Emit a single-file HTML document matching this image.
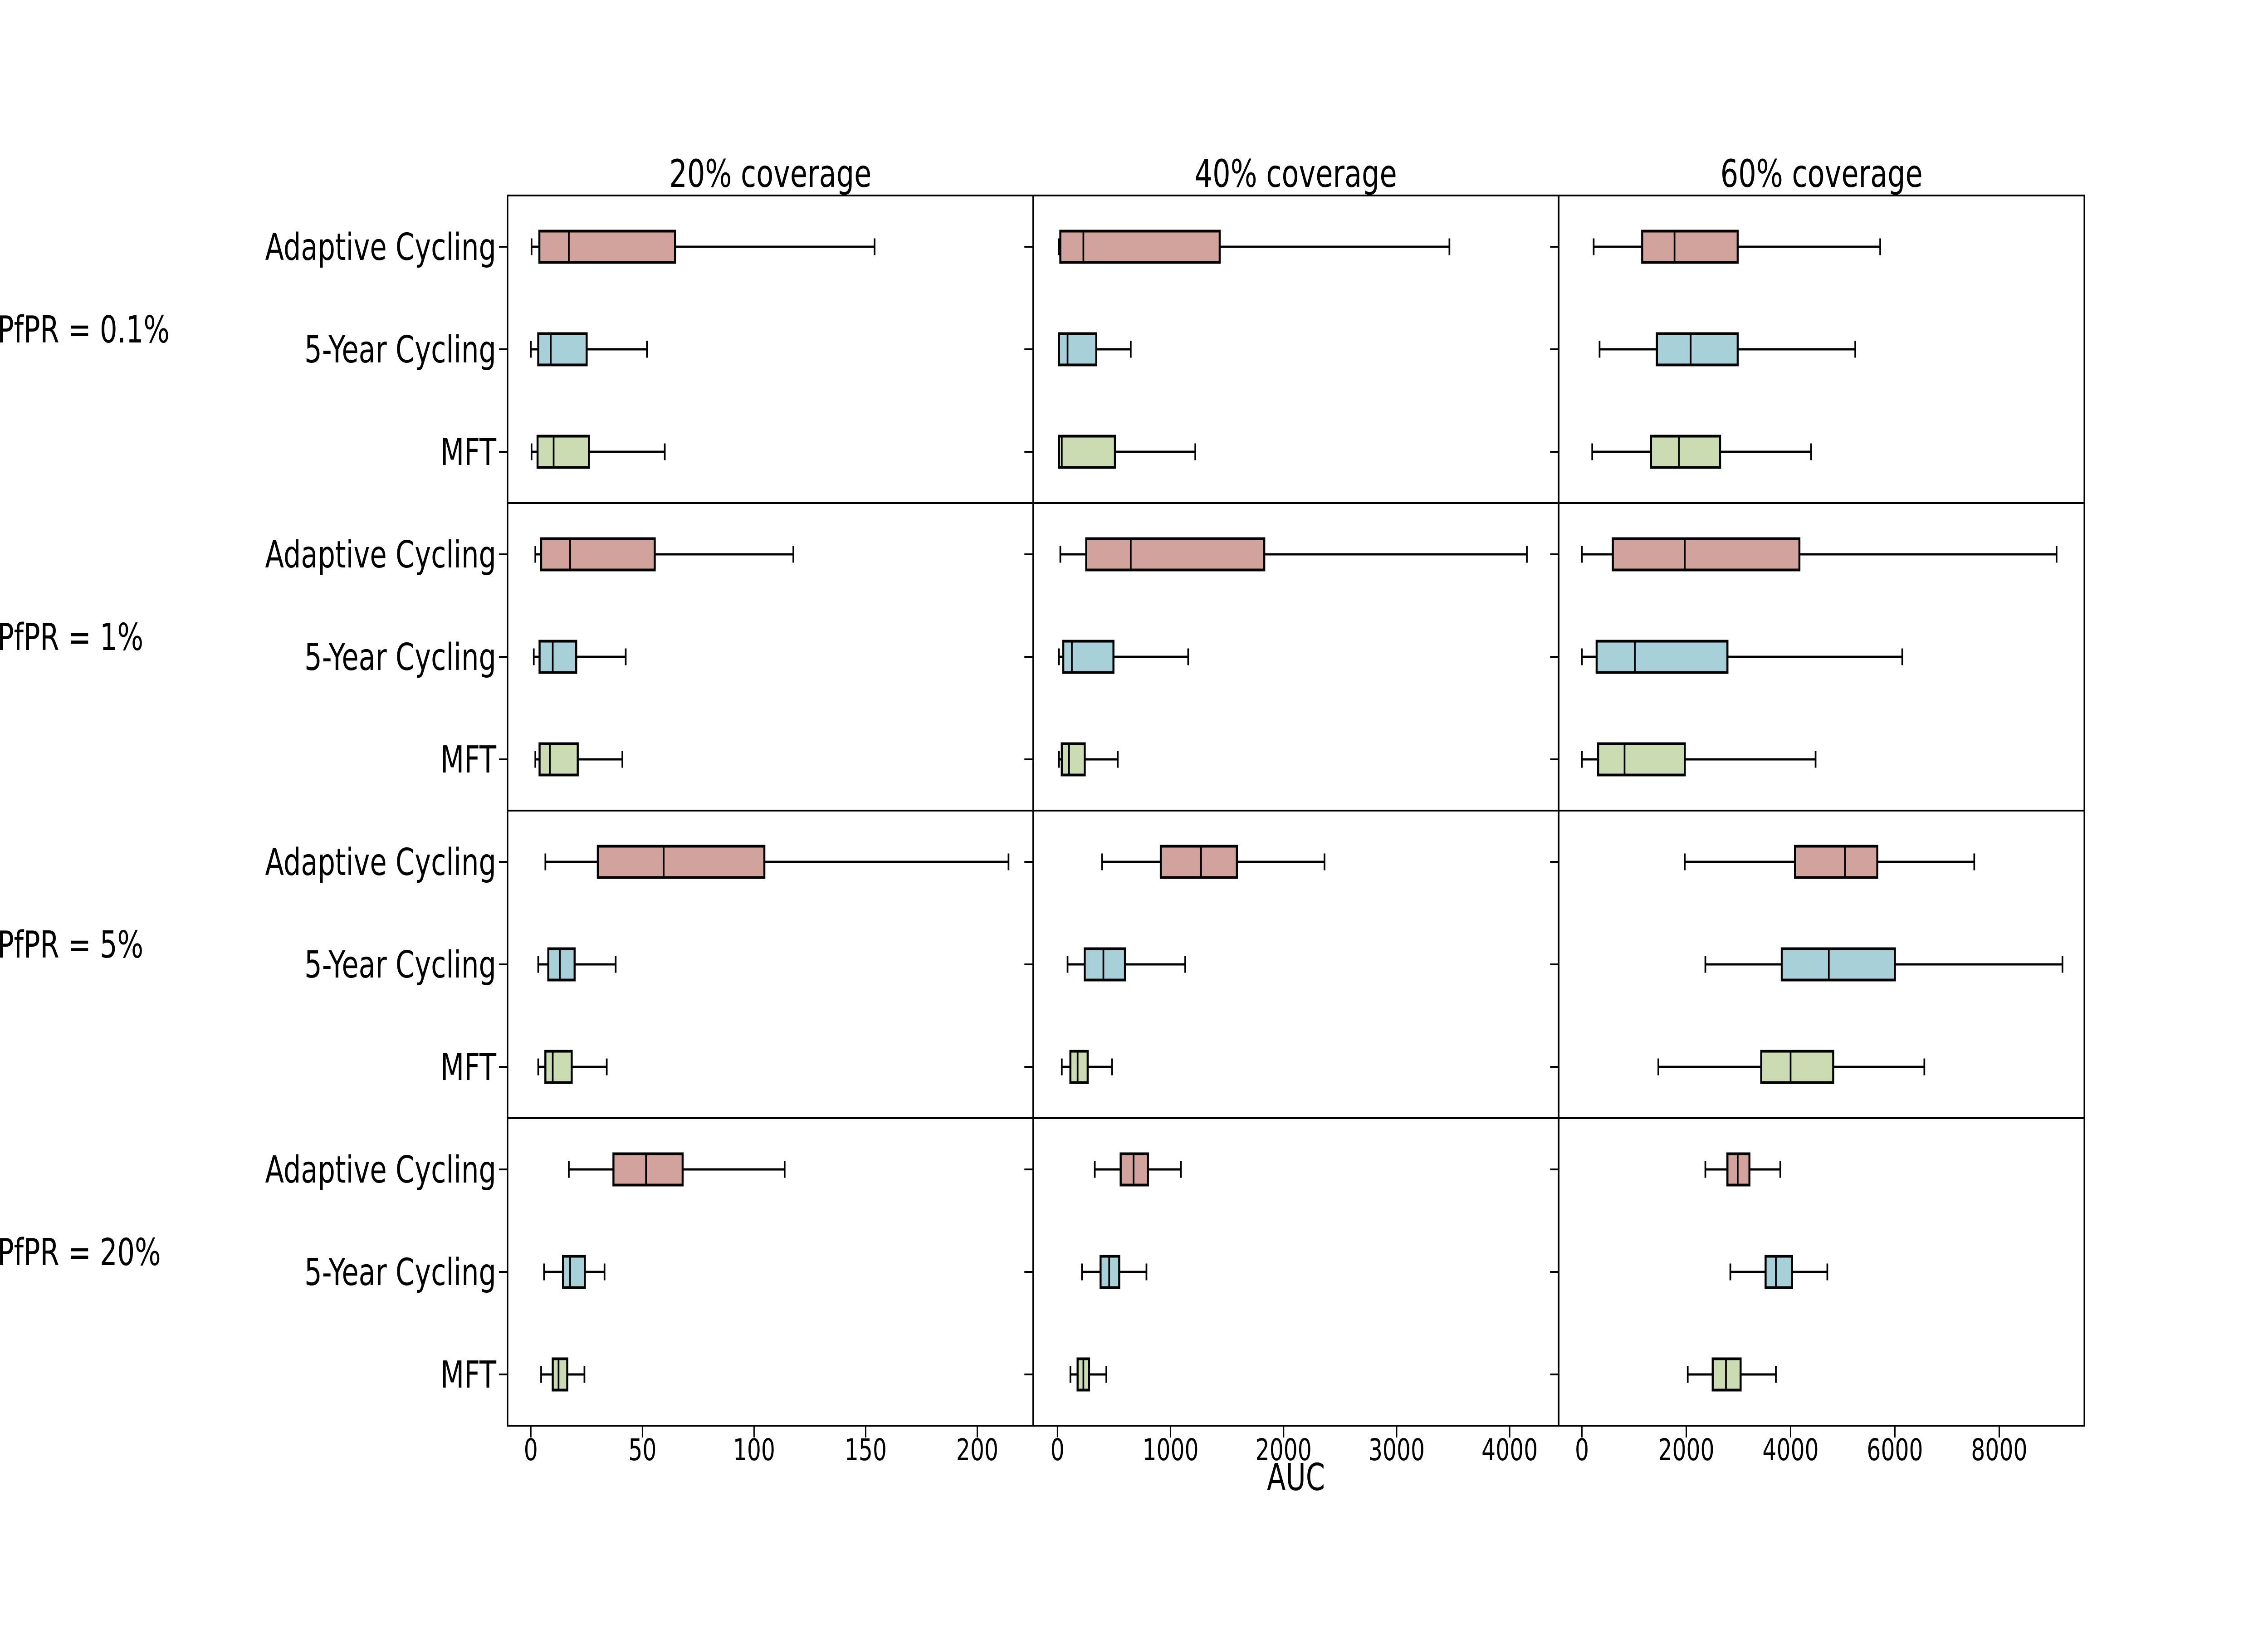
<!DOCTYPE html>
<html><head><meta charset="utf-8"><style>
html,body{margin:0;padding:0;background:#fff;overflow:hidden;width:100vw;height:100vh;}
svg{display:block;width:100vw;height:100vh;font-family:"DejaVu Sans","Liberation Sans",sans-serif;}
</style></head><body>
<svg id="chart" viewBox="0 0 6764 3600" preserveAspectRatio="none" xmlns="http://www.w3.org/2000/svg"></svg>
<script>
const coverages = ["20% coverage","40% coverage","60% coverage"];
const prevalences = ["PfPR = 0.1%","PfPR = 1%","PfPR = 5%","PfPR = 20%"];
const strategies = ["Adaptive Cycling","5-Year Cycling","MFT"];
const colTicks = [[0,50,100,150,200],[0,1000,2000,3000,4000],[0,2000,4000,6000,8000]];
const colDomains = [[-10.4,225],[-216,4432],[-443,9630]];
// stats per [row][col][strategy] = [whiskerLo, q1, median, q3, whiskerHi]
const statsPfPR01 = [
  [[0.3,3.8,17,64.6,154],[0,3.3,8.9,25,52],[0.3,3,10.2,26,60]],
  [[13,25,229,1435,3467],[13,13,89,343,648],[13,13,38,508,1219]],
  [[225,1155,1775,2986,5718],[338,1437,2085,2986,5240],[197,1324,1859,2648,4394]]
];
const statsPfPR1 = [
  [[2,4.6,17.6,55.5,117.6],[1.3,3.9,9.8,20.3,42.5],[2,3.9,8.5,21,41]],
  [[25,254,648,1829,4152],[13,51,127,495,1156],[13,38,102,241,533]],
  [[0,592,1972,4169,9099],[0,282,1014,2789,6141],[0,310,817,1972,4479]]
];
const statsPfPR5 = [
  [[6.5,30,59.5,104.6,214],[3.3,7.8,13,19.6,38],[3.3,6.5,9.8,18.3,34]],
  [[394,914,1270,1587,2362],[89,241,406,597,1130],[38,114,178,267,483]],
  [[1972,4085,5042,5662,7521],[2366,3831,4733,6000,9212],[1465,3437,4000,4817,6564]]
];
const statsPfPR20 = [
  [[17,37,51.6,68,113.7],[5.9,14.4,17.6,24.2,33],[4.6,9.8,12.4,16.3,24]],
  [[330,559,673,800,1092],[216,381,457,546,787],[114,178,229,279,432]],
  [[2366,2789,2986,3211,3803],[2845,3521,3718,4028,4704],[2028,2507,2761,3042,3718]]
];
const allStats = [statsPfPR01,statsPfPR1,statsPfPR5,statsPfPR20];
const colors = ["#d2a29c","#a8d0d8","#ccdcb2"];

const NS="http://www.w3.org/2000/svg";
const svg=document.getElementById('chart');
function mk(tag,attrs,parent){const e=document.createElementNS(NS,tag);for(const k in attrs)e.setAttribute(k,attrs[k]);(parent||svg).appendChild(e);return e;}
const colLeft=[1514,3081,4649], colW=1567;
const rowTop=[431,1109,1787,2465], rowH=678, bottom=3143;
function xScale(c,v){const d=colDomains[c];return colLeft[c]+(v-d[0])/(d[1]-d[0])*colW;}
function yPos(r,s){return rowTop[r]+rowH*(2*s+1)/6;}
const boxH=69, capH=37;

coverages.forEach((t,c)=>{
  const e=mk('text',{x:colLeft[c]+colW/2,y:412,'text-anchor':'middle','font-size':84,fill:'#000'});
  e.textContent=t;
  
  
});
prevalences.forEach((t,r)=>{
  const e=mk('text',{x:-8,y:rowTop[r]+rowH/2-15,'font-size':82,fill:'#000'});
  e.textContent=t;
  
  
});

for(let r=0;r<4;r++){
  for(let c=0;c<3;c++){
    const g=mk('g',{});
    
    
    for(let s=0;s<3;s++){
      const y=yPos(r,s);
      mk('line',{x1:colLeft[c]-26,x2:colLeft[c],y1:y,y2:y,stroke:'#000','stroke-width':4},g);
      if(c===0){
        const t=mk('text',{x:1480,y:y+29,'text-anchor':'end','font-size':82,fill:'#000'});
        t.textContent=strategies[s];
        
        
      }
      const st=allStats[r][c][s];
      const [lo,q1,md,q3,hi]=st.map(v=>xScale(c,v));
      const bg=mk('g',{},g);
      
      
      mk('line',{x1:lo,x2:q1,y1:y,y2:y,stroke:'#000','stroke-width':5},bg);
      mk('line',{x1:q3,x2:hi,y1:y,y2:y,stroke:'#000','stroke-width':5},bg);
      mk('line',{x1:lo,x2:lo,y1:y-capH/2,y2:y+capH/2,stroke:'#000','stroke-width':5},bg);
      mk('line',{x1:hi,x2:hi,y1:y-capH/2,y2:y+capH/2,stroke:'#000','stroke-width':5},bg);
      mk('rect',{x:q1,y:y-boxH/2,width:Math.max(q3-q1,1),height:boxH,fill:colors[s],stroke:'#000','stroke-width':6},bg);
      mk('line',{x1:md,x2:md,y1:y-boxH/2,y2:y+boxH/2,stroke:'#000','stroke-width':5},bg);
    }
    mk('rect',{x:colLeft[c],y:rowTop[r],width:colW,height:rowH,fill:'none',stroke:'#000','stroke-width':4},g);
  }
}
for(let c=0;c<3;c++){
  colTicks[c].forEach(v=>{
    const x=xScale(c,v);
    mk('line',{x1:x,x2:x,y1:bottom,y2:bottom+26,stroke:'#000','stroke-width':4});
    const t=mk('text',{x:x,y:3219,'text-anchor':'middle','font-size':66,fill:'#000'});
    t.textContent=v;
    
    
  });
}
const ax=mk('text',{x:3865,y:3285,'text-anchor':'middle','font-size':82,fill:'#000'});
ax.textContent='AUC';


</script>
</body></html>
